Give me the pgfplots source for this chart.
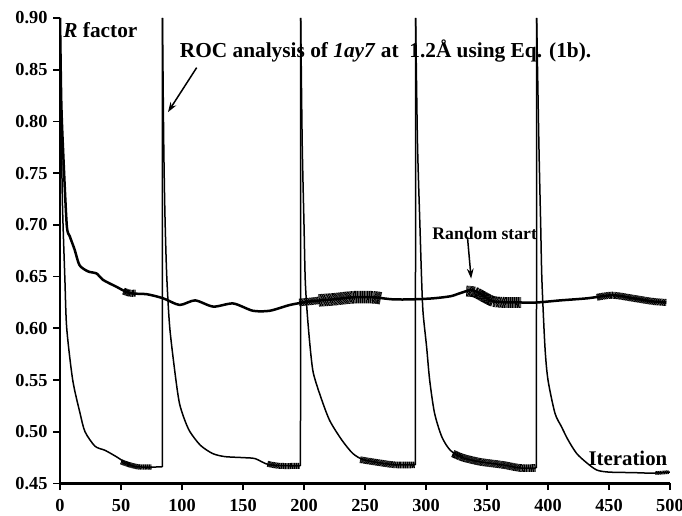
\documentclass[border=0pt]{standalone}
\usepackage{pgfplots}
\pgfplotsset{compat=1.18}
\usepackage{fontspec}
\setmainfont{Liberation Serif}
\usetikzlibrary{arrows.meta}
\begin{document}
\begin{tikzpicture}
\begin{axis}[
  scale only axis,
  width=366pt, height=279.3pt,
  xmin=0, xmax=500, ymin=0.45, ymax=0.90,
  axis lines*=left,
  axis line style={line width=1.5pt,-},
  xtick={0,50,...,500},
  ytick={0.45,0.50,...,0.91},
  tick align=outside,
  major tick length=4pt,
  tick style={black, line width=1pt},
  ticklabel style={font=\fontsize{11}{13}\selectfont\bfseries},
  xticklabel style={yshift=-2pt},
  /pgf/number format/assume math mode=true,
  yticklabel style={/pgf/number format/.cd, fixed, fixed zerofill, precision=2},
  xticklabel style={/pgf/number format/.cd, fixed, precision=0},
  clip=true,
  roc/.style={black, line width=0.9pt, smooth, tension=0.45},
  rise/.style={black, line width=0.9pt},
  band/.style={black, line width=#1, smooth, tension=0.45, dash pattern=on 0.3pt off 0.22pt},
]
% ROC analysis curve: decays after each restart
\addplot[roc] coordinates {
(0,0.90) (1,0.80) (2,0.72) (4,0.647) (5.5,0.60) (10.4,0.55) (16.4,0.518) (20.5,0.50)
(28.7,0.486) (37,0.482) (46,0.476) (57,0.468) (65,0.466) (83.8,0.466)};
\addplot[rise] coordinates {(83.8,0.466) (84,0.90)};
\addplot[roc] coordinates {
(84,0.90) (85,0.78) (86,0.71) (87.5,0.65) (90,0.60) (95,0.55) (98,0.527) (102,0.512)
(106.5,0.50) (115,0.487) (125,0.479) (135,0.476) (150,0.475) (160,0.474) (172,0.468) (197.1,0.467)};
\addplot[rise] coordinates {(197.1,0.467) (197.3,0.90)};
\addplot[roc] coordinates {
(197.3,0.90) (198.5,0.78) (200,0.70) (201,0.647) (202.6,0.615) (205,0.582) (207.6,0.557)
(213.6,0.534) (221,0.511) (231,0.492) (240,0.479) (248.6,0.473) (262,0.470) (275,0.468) (291.3,0.468)};
\addplot[rise] coordinates {(291.3,0.468) (291.5,0.90)};
\addplot[roc] coordinates {
(291.5,0.90) (293,0.78) (295,0.70) (296.4,0.647) (297.6,0.615) (300.5,0.582) (303,0.55)
(307,0.518) (313,0.495) (320,0.482) (330,0.475) (344,0.471) (363,0.468) (377,0.465) (390.5,0.465)};
\addplot[rise] coordinates {(390.5,0.465) (390.7,0.90)};
\addplot[roc] coordinates {
(390.7,0.90) (392.5,0.78) (394,0.70) (395,0.647) (397.5,0.582) (400,0.55) (405.7,0.518)
(411,0.505) (416.5,0.492) (423.5,0.479) (431.7,0.470) (440,0.463) (450,0.461) (470,0.4605)
(485,0.460) (500,0.461)};
% noisy bands on ROC curve
\addplot[band=3.2pt] coordinates {(50,0.471) (57,0.468) (65,0.466) (75,0.466)};
\addplot[band=3.6pt] coordinates {(170,0.469) (180,0.467) (196.5,0.467)};
\addplot[band=4pt] coordinates {(246,0.473) (262,0.470) (275,0.468) (290.8,0.468)};
\addplot[band=4.6pt] coordinates {(322,0.479) (330,0.475) (344,0.471) (363,0.468) (377,0.465) (390,0.465)};
\addplot[band=2.2pt] coordinates {(488,0.460) (499,0.461)};
% Random start curve
\addplot[black, line width=1.5pt, smooth, tension=0.45] coordinates {
(0,0.90) (1,0.82) (2.5,0.7725) (5.5,0.70) (8,0.689) (12,0.676) (16,0.661) (23,0.655)
(30,0.653) (35,0.647) (46.5,0.640) (57,0.634) (71,0.633) (84.6,0.629) (98,0.6226)
(110.7,0.627) (125.6,0.621) (142,0.624) (158,0.617) (172,0.617) (188.5,0.6226)
(205,0.626) (224,0.628) (240,0.630) (256.6,0.630) (273,0.628) (289,0.628) (306,0.629)
(320,0.631) (328,0.634) (337,0.637) (344,0.634) (355,0.626) (377,0.625) (391,0.625)
(410,0.627) (432,0.629) (453,0.632) (470,0.629) (486,0.626) (497,0.625)
};
% noisy bands on random start curve
\addplot[band=4.2pt] coordinates {(52,0.636) (57,0.634) (62,0.634)};
\addplot[band=4.5pt] coordinates {(196,0.625) (205,0.626) (212,0.627)};
\addplot[band=7.5pt] coordinates {(212,0.627) (224,0.628) (240,0.630) (256.6,0.630) (263,0.629)};
\addplot[band=6.5pt] coordinates {(333,0.636) (340,0.635) (348,0.630) (355,0.626) (365,0.625) (378,0.625)};
\addplot[band=4.2pt] coordinates {(440,0.630) (453,0.632) (470,0.629) (486,0.626) (497,0.625)};
% annotations
\node[anchor=west, inner sep=0pt, font=\fontsize{12.8}{15}\selectfont\bfseries] at (axis cs:2.5,0.888) {\textit{R} factor};
\node[anchor=west, inner sep=0pt, font=\fontsize{12.8}{15}\selectfont\bfseries] at (axis cs:98,0.868) {ROC analysis of \textit{1ay7} at~ 1.2Å using Eq. (1b).};
\node[anchor=west, inner sep=0pt, font=\fontsize{10.6}{13}\selectfont\bfseries] at (axis cs:305,0.692) {Random start};
\node[anchor=west, inner sep=0pt, font=\fontsize{12.5}{15}\selectfont\bfseries] at (axis cs:433,0.4747) {Iteration};
\draw[-{Stealth[length=6pt,width=4pt]}, line width=0.9pt] (axis cs:112,0.852) -- (axis cs:88.5,0.809);
\draw[-{Stealth[length=6pt,width=4pt]}, line width=0.9pt] (axis cs:334,0.688) -- (axis cs:337,0.648);
\coordinate (bl) at (rel axis cs:-0.0984,-0.0698);
\coordinate (tr) at (rel axis cs:1.0197,1.0387);
\end{axis}
\pgfresetboundingbox
\useasboundingbox (bl) rectangle (tr);
\end{tikzpicture}
\end{document}
